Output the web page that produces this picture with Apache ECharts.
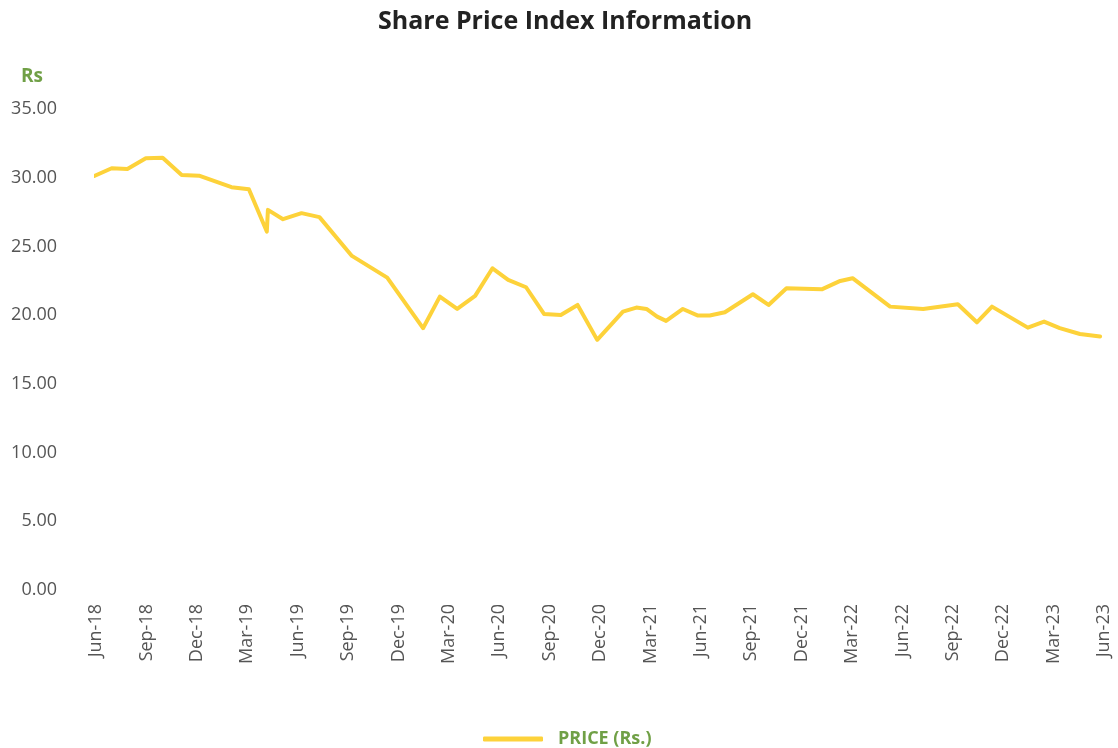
<!DOCTYPE html>
<html>
<head>
<meta charset="utf-8">
<script src="https://cdn.jsdelivr.net/npm/echarts@6/dist/echarts.min.js"></script>
<style>
html,body{margin:0;padding:0;background:#fff;}
#chart{width:1118px;height:748px;}
</style>
</head>
<body>
<div id="chart"></div>
<script>
// Observation dates and share prices (Rs.)
var dates = [
  "2018-05-28","2018-06-29","2018-07-27","2018-08-30","2018-09-30","2018-11-04","2018-12-05",
  "2019-02-03","2019-03-04","2019-04-06","2019-04-08","2019-05-05","2019-06-08","2019-07-10",
  "2019-09-08","2019-11-11","2020-01-15","2020-02-15","2020-03-16","2020-04-18","2020-05-19",
  "2020-06-17","2020-07-19","2020-08-21","2020-09-21","2020-10-21","2020-11-26","2021-01-12",
  "2021-02-06","2021-02-24","2021-03-13","2021-03-29","2021-04-29","2021-05-26","2021-06-17",
  "2021-07-14","2021-09-04","2021-10-02","2021-11-04","2022-01-07","2022-02-10","2022-03-02",
  "2022-05-09","2022-07-08","2022-09-10","2022-10-14","2022-11-11","2023-01-15","2023-02-14",
  "2023-03-12","2023-04-18","2023-05-24"
];
var prices = [
  30.13,30.69,30.64,31.42,31.46,30.20,30.15,
  29.31,29.16,26.08,27.66,26.98,27.42,27.13,
  24.31,22.73,19.05,21.35,20.45,21.40,23.41,
  22.56,22.03,20.09,20.01,20.74,18.20,20.26,
  20.55,20.45,19.89,19.58,20.45,19.97,19.97,
  20.21,21.52,20.74,21.96,21.88,22.49,22.69,
  20.62,20.45,20.79,19.48,20.62,19.09,19.53,
  19.05,18.63,18.44
];
var tickLabels = ["Jun-18","Sep-18","Dec-18","Mar-19","Jun-19","Sep-19","Dec-19","Mar-20","Jun-20",
  "Sep-20","Dec-20","Mar-21","Jun-21","Sep-21","Dec-21","Mar-22","Jun-22","Sep-22","Dec-22","Mar-23","Jun-23"];
var yTicks = [0,5,10,15,20,25,30,35];

function monthIndex(s){
  var p = s.split("-");
  var y = +p[0], m = +p[1], d = +p[2];
  return (y-2018)*12 + (m-6) + (d-1)/30;
}
var seriesData = dates.map(function(d,i){ return [monthIndex(d), prices[i]]; });

var green = "#70A046";
var chart = echarts.init(document.getElementById("chart"));
chart.setOption({
  animation:false,
  backgroundColor:"#ffffff",
  title:[
    {text:"Share Price Index Information",left:378,top:9,padding:0,
     textStyle:{fontFamily:"Open Sans",fontWeight:"bold",fontSize:25,color:"#222222"}},
    {text:"Rs",left:21,top:67,padding:0,
     textStyle:{fontFamily:"Open Sans",fontWeight:"bold",fontSize:19,color:green}}
  ],
  legend:{
    top:730,left:483,padding:0,
    itemWidth:60,itemHeight:5,itemGap:15,
    icon:"roundRect",
    textStyle:{fontFamily:"Open Sans",fontWeight:"bold",fontSize:18,color:green,padding:[0,0,0,10]},
    data:[{name:"PRICE (Rs.)"}]
  },
  grid:{left:96,right:14,top:109,bottom:158,containLabel:false},
  xAxis:{
    type:"value",min:0,max:(tickLabels.length-1)*3,interval:3,
    axisLine:{show:false},axisTick:{show:false},splitLine:{show:false},
    axisLabel:{
      rotate:90,margin:14,fontFamily:"Open Sans",fontSize:18,color:"#555555",
      formatter:function(v){ return tickLabels[Math.round(v/3)] || ""; }
    }
  },
  yAxis:{
    type:"value",min:yTicks[0],max:yTicks[yTicks.length-1],interval:5,
    axisLine:{show:false},axisTick:{show:false},splitLine:{show:false},
    axisLabel:{
      margin:39,fontFamily:"Open Sans",fontSize:18,color:"#555555",padding:[6,0,0,0],
      formatter:function(v){ return v.toFixed(2); }
    }
  },
  series:[{
    name:"PRICE (Rs.)",type:"line",data:seriesData,
    showSymbol:false,symbol:"none",
    lineStyle:{color:"#FDD23A",width:4,join:"round",cap:"round"},
    itemStyle:{color:"#FDD23A"}
  }]
});
</script>
</body>
</html>
